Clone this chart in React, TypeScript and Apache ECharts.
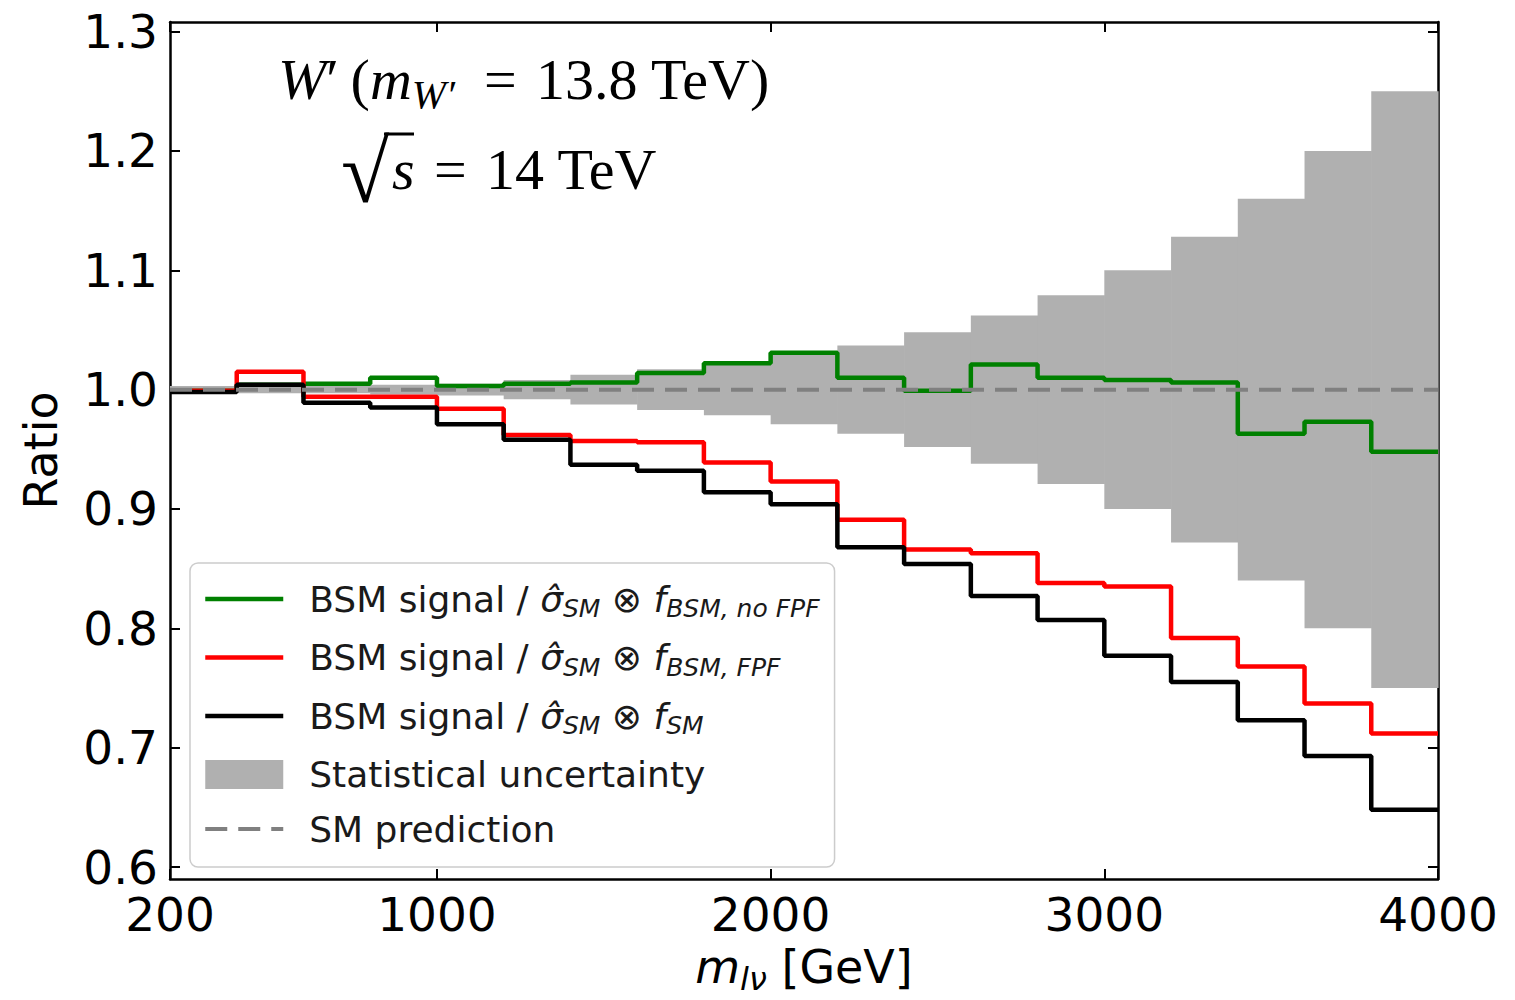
import React, { useEffect, useRef } from "react";
import * as echarts from "echarts";

// Bin edges of m_lν [GeV]
const EDGES = [200, 400, 600, 800, 1000, 1200, 1400, 1600, 1800, 2000, 2200, 2400, 2600, 2800, 3000, 3200, 3400, 3600, 3800, 4000];
// Ratio per bin (19 bins)
const GREEN = [0.999, 1.004, 1.005, 1.010, 1.003, 1.005, 1.006, 1.014, 1.022, 1.031, 1.010, 0.999, 1.021, 1.010, 1.008, 1.006, 0.963, 0.973, 0.948];
const RED = [0.999, 1.015, 0.994, 0.994, 0.984, 0.962, 0.957, 0.956, 0.939, 0.923, 0.891, 0.866, 0.863, 0.838, 0.835, 0.792, 0.768, 0.737, 0.712];
const BLACK = [0.998, 1.004, 0.989, 0.985, 0.971, 0.958, 0.937, 0.932, 0.914, 0.904, 0.868, 0.854, 0.827, 0.807, 0.777, 0.755, 0.723, 0.693, 0.648];
// Statistical uncertainty half-width per bin
const HALF = [0.003, 0.003, 0.003, 0.004, 0.005, 0.008, 0.0125, 0.017, 0.0215, 0.029, 0.037, 0.048, 0.062, 0.079, 0.100, 0.128, 0.160, 0.200, 0.250];
const SM_LEVEL = 1.0;

const X_TICKS = [200, 1000, 2000, 3000, 4000];
const Y_TICKS = [0.6, 0.7, 0.8, 0.9, 1.0, 1.1, 1.2, 1.3];

const stepData = (vals: number[]) => EDGES.map((e, i) => [e, vals[Math.min(i, vals.length - 1)]]);
const bandData = HALF.map((h, i) => [EDGES[i], EDGES[i + 1], SM_LEVEL - h, SM_LEVEL + h]);

const SUBTXT = "{n|BSM signal / }{i|σ̂}{s|SM}{n| ⊗ }{i|f}";
const LEGEND_TEXT: Record<string, string> = {
  noFPF: "{pad|}" + SUBTXT + "{s|BSM, no FPF}",
  FPF: "{pad|}" + SUBTXT + "{s|BSM, FPF}",
  SMf: "{pad|}" + SUBTXT + "{s|SM}",
  Stat: "{pad|}{n|Statistical uncertainty}",
  SMpred: "{pad|}{n|SM prediction}",
};

export default function App() {
  const ref = useRef<HTMLDivElement>(null);
  useEffect(() => {
    if (!ref.current) return;
    const chart = echarts.init(ref.current, null, { renderer: "svg" });
    const font = "DejaVu Sans";
    const serif = "Liberation Serif";
    const axisLine = { show: true, lineStyle: { color: "#000", width: 2.5 } };
    const tickCommon = { show: true, inside: true, length: 10, lineStyle: { color: "#000", width: 2 } };
    const hideSym = { opacity: 0 };

    chart.setOption({
      animation: false,
      grid: { left: 170, right: 77, top: 22, bottom: 117 },
      xAxis: [
        {
          type: "value", min: 200, max: 4000, position: "bottom",
          axisLine, splitLine: { show: false },
          axisTick: { ...tickCommon, customValues: X_TICKS },
          axisLabel: { customValues: X_TICKS, fontFamily: font, fontSize: 47, color: "#000", margin: 12, formatter: (v: number) => String(v) },
          name: "{i|m}{s|lν}{n| [GeV]}", nameLocation: "middle", nameGap: 60,
          nameTextStyle: {
            rich: {
              i: { fontFamily: font, fontStyle: "italic", fontSize: 46, color: "#000", lineHeight: 56 },
              s: { fontFamily: font, fontStyle: "italic", fontSize: 32, color: "#000", lineHeight: 30, verticalAlign: "bottom" },
              n: { fontFamily: font, fontSize: 46, color: "#000", lineHeight: 56 },
            },
          },
        },
        {
          type: "value", min: 200, max: 4000, position: "top",
          axisLine, splitLine: { show: false },
          axisTick: { ...tickCommon, customValues: X_TICKS },
          axisLabel: { show: false },
        },
      ],
      yAxis: [
        {
          type: "value", min: 0.59, max: 1.308, position: "left",
          axisLine, splitLine: { show: false },
          axisTick: { ...tickCommon, customValues: Y_TICKS },
          axisLabel: { customValues: Y_TICKS, fontFamily: font, fontSize: 47, color: "#000", margin: 12, formatter: (v: number) => v.toFixed(1) },
          name: "Ratio", nameLocation: "middle", nameGap: 106,
          nameTextStyle: { fontFamily: font, fontSize: 46, color: "#000" },
        },
        {
          type: "value", min: 0.59, max: 1.308, position: "right",
          axisLine, splitLine: { show: false },
          axisTick: { ...tickCommon, customValues: Y_TICKS },
          axisLabel: { show: false },
        },
      ],
      legend: {
        orient: "vertical", left: 190, top: 563,
        padding: [18, 15, 20, 13], itemGap: 18.5,
        itemWidth: 78, itemHeight: 29,
        backgroundColor: "#fff", borderColor: "#cccccc", borderWidth: 1.5, borderRadius: 8,
        selectedMode: false,
        data: [
          { name: "noFPF", itemStyle: hideSym, lineStyle: { width: 4.5 } },
          { name: "FPF", itemStyle: hideSym, lineStyle: { width: 4.5 } },
          { name: "SMf", itemStyle: hideSym, lineStyle: { width: 4.5 } },
          { name: "Stat", icon: "rect", itemStyle: { color: "#b0b0b0", borderWidth: 0 } },
          { name: "SMpred", itemStyle: hideSym, lineStyle: { width: 4, type: [22, 11] } },
        ],
        formatter: (name: string) => LEGEND_TEXT[name] || name,
        textStyle: {
          rich: {
            pad: { width: 21, lineHeight: 44 },
            n: { fontFamily: font, fontSize: 36, color: "#1a1a1a", lineHeight: 44 },
            i: { fontFamily: font, fontStyle: "italic", fontSize: 36, color: "#1a1a1a", lineHeight: 44 },
            s: { fontFamily: font, fontStyle: "italic", fontSize: 25, color: "#1a1a1a", lineHeight: 23, verticalAlign: "bottom" },
          },
        },
      },
      series: [
        {
          name: "Stat", type: "custom", silent: true,
          itemStyle: { color: "#b0b0b0" },
          encode: { x: [0, 1], y: [2, 3] },
          data: bandData,
          renderItem: (params: any, api: any) => {
            const p0 = api.coord([api.value(0), api.value(3)]);
            const p1 = api.coord([api.value(1), api.value(2)]);
            return {
              type: "rect",
              shape: { x: p0[0], y: p0[1], width: p1[0] - p0[0] + 0.6, height: p1[1] - p0[1] },
              style: { fill: "#b0b0b0" },
            };
          },
        },
        {
          name: "noFPF", type: "line", step: "end", symbol: "none", data: stepData(GREEN),
          color: "#008000", lineStyle: { color: "#008000", width: 4.5 },
        },
        {
          name: "FPF", type: "line", step: "end", symbol: "none", data: stepData(RED),
          color: "#ff0000", lineStyle: { color: "#ff0000", width: 4.5 },
        },
        {
          name: "SMf", type: "line", step: "end", symbol: "none", data: stepData(BLACK),
          color: "#000000", lineStyle: { color: "#000000", width: 4.5 },
        },
        {
          name: "SMpred", type: "line", symbol: "none", data: [[200, SM_LEVEL], [4000, SM_LEVEL]],
          color: "#808080", lineStyle: { color: "#808080", width: 4, type: [22, 11] },
        },
      ],
      graphic: [
        {
          type: "text", left: 278, top: 50, z: 10,
          style: {
            text: "{i|W}{r|′\u2009(}{i|m}{sub|W′}{r|\u2002=\u200413.8 TeV)}",
            rich: {
              i: { fontFamily: serif, fontStyle: "italic", fontSize: 58, color: "#000", lineHeight: 70 },
              r: { fontFamily: serif, fontSize: 58, color: "#000", lineHeight: 70 },
              sub: { fontFamily: serif, fontStyle: "italic", fontSize: 41, color: "#000", lineHeight: 38, verticalAlign: "bottom" },
            },
          },
        },
        {
          type: "text", left: 341, top: 128, z: 10,
          style: { text: "√", fontFamily: serif, fontSize: 88, fill: "#000" },
        },
        {
          type: "line", z: 10,
          shape: { x1: 384, y1: 134, x2: 414, y2: 134 },
          style: { stroke: "#000", lineWidth: 3 },
        },
        {
          type: "text", left: 392, top: 140, z: 10,
          style: {
            text: "{i|s}{r|\u2004=\u200414 TeV}",
            rich: {
              i: { fontFamily: serif, fontStyle: "italic", fontSize: 58, color: "#000", lineHeight: 66 },
              r: { fontFamily: serif, fontSize: 58, color: "#000", lineHeight: 66 },
            },
          },
        },
      ],
    });
    return () => chart.dispose();
  }, []);
  return <div ref={ref} style={{ position: "absolute", left: 0, top: 0, width: 1515, height: 1000 }} />;
}
